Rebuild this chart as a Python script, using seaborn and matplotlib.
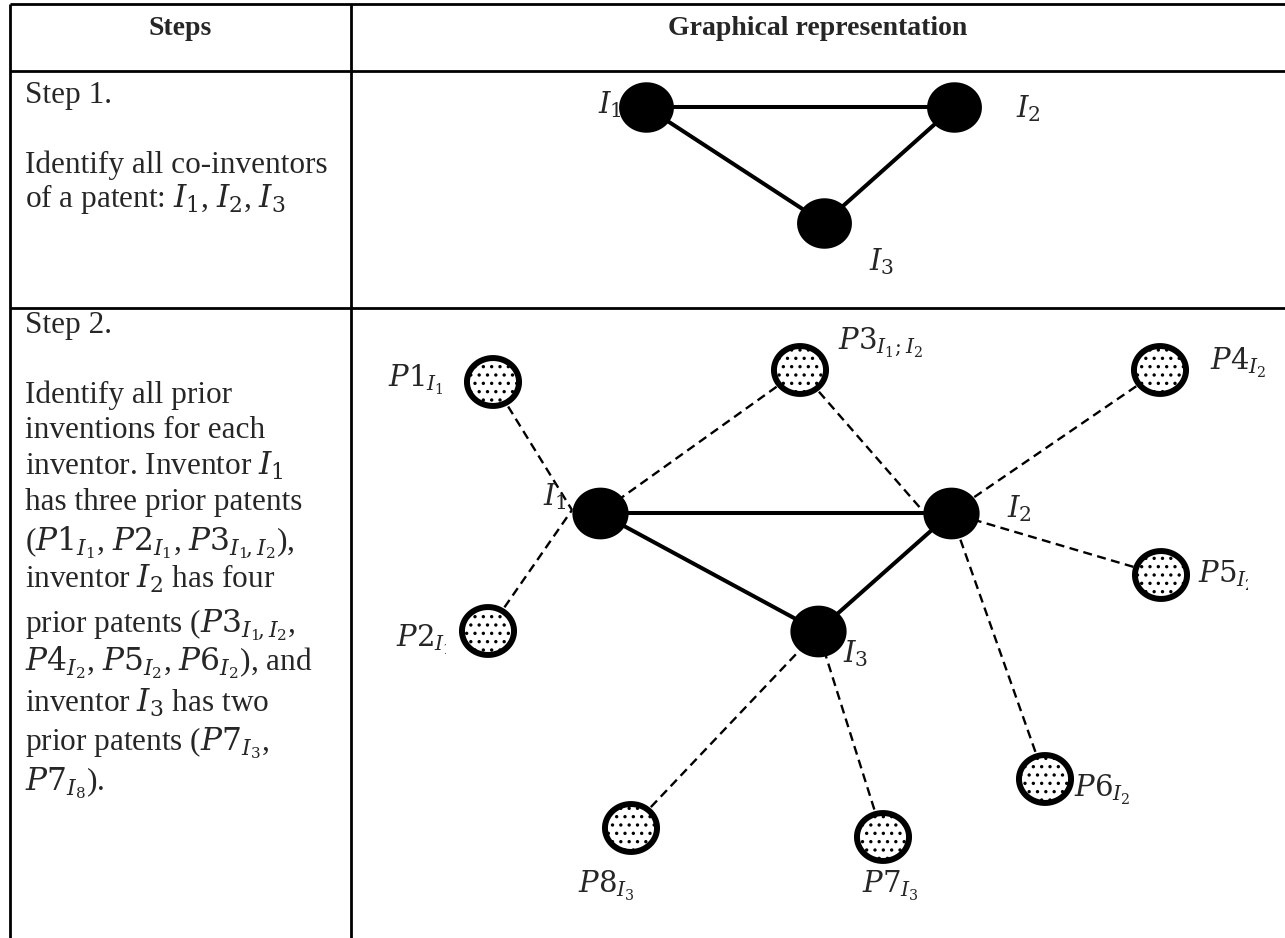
import numpy as np
import pandas as pd
import seaborn as sns
import matplotlib.pyplot as plt
from matplotlib.path import Path
from matplotlib.patches import Rectangle

sns.set_theme(style="white")
plt.rcParams['font.family'] = ['Liberation Serif', 'DejaVu Serif']
plt.rcParams['mathtext.fontset'] = 'dejavuserif'
plt.rcParams['hatch.linewidth'] = 1.2

# ---------------- data ----------------
headers = ["Steps", "Graphical representation"]

step1_lines = ["Step 1.", "Identify all co-inventors", r"of a patent: $I_1$, $I_2$, $I_3$"]
step1_baselines = [103, 173, 207]

step2_lines = ["Step 2.", "Identify all prior", "inventions for each",
               r"inventor. Inventor $I_1$", "has three prior patents",
               r"($P1_{I_1}$, $P2_{I_1}$, $P3_{I_1\!,I_2}$),",
               r"inventor $I_2$ has four",
               r"prior patents ($P3_{I_1\!,I_2}$,",
               r"$P4_{I_2}$, $P5_{I_2}$, $P6_{I_2}$), and",
               r"inventor $I_3$ has two",
               r"prior patents ($P7_{I_3}$,",
               r"$P7_{I_8}$)."]
step2_baselines = [333, 403, 438, 475, 510, 550, 588, 632, 670, 712, 750, 790]

# Step 1 graph: inventors
s1_names = ["I1", "I2", "I3"]
s1_x = [646, 954, 824]
s1_y = [107, 107, 223]
s1_labels = [r"$I_1$", r"$I_2$", r"$I_3$"]
s1_label_x = [598, 1016, 869]
s1_label_y = [113, 117, 270]
s1_edges = [("I1", "I2"), ("I1", "I3"), ("I2", "I3")]

# Step 2 graph: inventors
inv_names = ["I1", "I2", "I3"]
inv_x = [600, 951, 818]
inv_y = [513, 513, 631]
inv_labels = [r"$I_1$", r"$I_2$", r"$I_3$"]
inv_label_x = [543, 1007, 843]
inv_label_y = [505, 517, 662]
inv_edges = [("I1", "I2"), ("I1", "I3"), ("I2", "I3")]

# Step 2 graph: prior patents
pat_names = ["P1", "P2", "P3", "P4", "P5", "P6", "P7", "P8"]
pat_x = [493, 488, 800, 1160, 1161, 1045, 883, 631]
pat_y = [382, 631, 370, 370, 575, 779, 837, 828]
pat_labels = [r"$P1_{I_1}$", r"$P2_{I_1}$", r"$P3_{I_1;I_2}$", r"$P4_{I_2}$",
              r"$P5_{I_2}$", r"$P6_{I_2}$", r"$P7_{I_3}$", r"$P8_{I_3}$"]
pat_label_x = [388, 396, 838, 1210, 1198, 1074, 862, 578]
pat_label_y = [387, 647, 350, 370, 583, 797, 893, 893]
pat_label_clip = [None, 446, None, None, 1248, None, None, None]

# links patent -> inventor, with attachment side on the inventor node
link_pat = ["P1", "P2", "P3", "P3", "P4", "P5", "P6", "P7", "P8"]
link_inv = ["I1", "I1", "I1", "I2", "I2", "I2", "I2", "I3", "I3"]
link_dx = [-28, -28, 0, -29, 0, 0, 0, 0, 0]
link_dy = [-3, -3, 0, -3, 0, 0, 0, 0, 0]

# table grid
col_x = [10, 351]
row_y = [4, 71, 308]

# ---------------- figure ----------------
W, H = 1285, 938
fig = plt.figure(figsize=(W / 100, H / 100), dpi=100)
ax = fig.add_axes([0, 0, 1, 1])
ax.set_xlim(0, W)
ax.set_ylim(H, 0)
ax.axis('off')

# table lines
for y in row_y:
    ax.plot([col_x[0], W], [y, y], color='black', lw=2.0, solid_capstyle='butt', zorder=1)
for x in col_x:
    ax.plot([x, x], [row_y[0], H], color='black', lw=2.0, solid_capstyle='butt', zorder=1)

# headers
ax.text((col_x[0] + col_x[1]) / 2, 35, headers[0], ha='center', va='baseline',
        fontsize=20, fontweight='bold')
ax.text((col_x[1] + W) / 2, 35, headers[1], ha='center', va='baseline',
        fontsize=20, fontweight='bold')

# left column text
body_fs = 22.5
for t, yb in zip(step1_lines + step2_lines, step1_baselines + step2_baselines):
    ax.text(25, yb, t, ha='left', va='baseline', fontsize=body_fs)

# ellipse marker path
theta = np.linspace(0, 2 * np.pi, 73)
ell = Path(np.column_stack([np.cos(theta), 0.92 * np.sin(theta)]), closed=True)

solid_lw = 2.9
dash_lw = 1.7
dash_style = (0, (3.8, 2.3))

# step 1 edges
d1 = dict(zip(s1_names, zip(s1_x, s1_y)))
for a, b in s1_edges:
    ax.plot([d1[a][0], d1[b][0]], [d1[a][1], d1[b][1]], color='black', lw=solid_lw, zorder=2)

s1_df = pd.DataFrame({"x": s1_x, "y": s1_y, "name": s1_names})
sns.scatterplot(data=s1_df, x="x", y="y", ax=ax, s=39.5 ** 2, marker=ell,
                color='black', edgecolor='black', linewidth=0, zorder=3, legend=False)
for lab, lx, ly in zip(s1_labels, s1_label_x, s1_label_y):
    ax.text(lx, ly, lab, ha='left', va='baseline', fontsize=21, zorder=4)

# step 2 edges
d2 = dict(zip(inv_names, zip(inv_x, inv_y)))
dp = dict(zip(pat_names, zip(pat_x, pat_y)))
for p, i, dx, dy in zip(link_pat, link_inv, link_dx, link_dy):
    ax.plot([dp[p][0], d2[i][0] + dx], [dp[p][1], d2[i][1] + dy], color='black',
            lw=dash_lw, linestyle=dash_style, zorder=2)
for a, b in inv_edges:
    ax.plot([d2[a][0], d2[b][0]], [d2[a][1], d2[b][1]], color='black', lw=solid_lw, zorder=2)

inv_df = pd.DataFrame({"x": inv_x, "y": inv_y, "name": inv_names})
sns.scatterplot(data=inv_df, x="x", y="y", ax=ax, s=40.5 ** 2, marker=ell,
                color='black', edgecolor='black', linewidth=0, zorder=3, legend=False)

pat_df = pd.DataFrame({"x": pat_x, "y": pat_y, "name": pat_names})
sns.scatterplot(data=pat_df, x="x", y="y", ax=ax, s=37.5 ** 2, marker=ell,
                facecolor='white', edgecolor='black', linewidth=4.3, hatch='..',
                zorder=3, legend=False)

for lab, lx, ly in zip(inv_labels, inv_label_x, inv_label_y):
    ax.text(lx, ly, lab, ha='left', va='baseline', fontsize=21, zorder=4)
for lab, lx, ly, clip in zip(pat_labels, pat_label_x, pat_label_y, pat_label_clip):
    t = ax.text(lx, ly, lab, ha='left', va='baseline', fontsize=21, zorder=4)
    if clip is not None:
        r = Rectangle((0, 0), clip, H, transform=ax.transData)
        t.set_clip_path(r)
        t.set_clip_on(True)

ax.set_xlabel("")
ax.set_ylabel("")
fig.savefig("out.png", dpi=100)
